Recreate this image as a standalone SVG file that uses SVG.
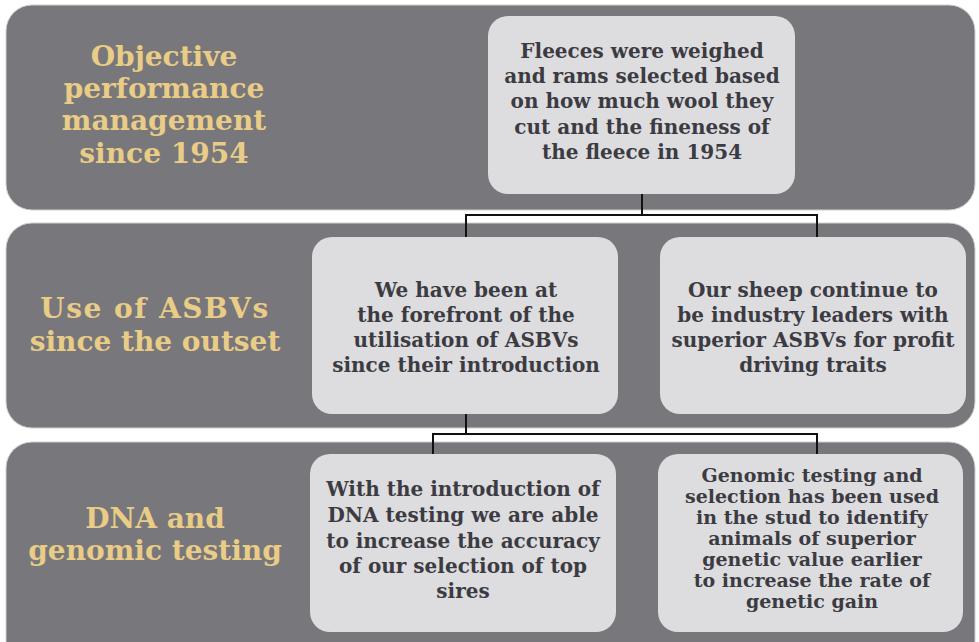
<svg xmlns="http://www.w3.org/2000/svg" width="979" height="642" viewBox="0 0 979 642">
<style>
.band{fill:#78777c;stroke:#cfcfd1;stroke-width:1}
.box{fill:#dddde0}
.title{font-family:"DejaVu Serif",serif;font-weight:bold;font-size:28px;fill:#e9cc85;text-anchor:middle}
.wide{letter-spacing:1.5px}
.txt{font-family:"DejaVu Serif",serif;font-weight:bold;font-size:20px;fill:#3c3b42;text-anchor:middle}
.txt.sm{font-size:19px}
.conn{fill:none;stroke:#111;stroke-width:2}
</style>
<rect width="979" height="642" fill="#ffffff"/>
<g id="band1">
<rect class="band" x="6" y="5" width="969" height="205" rx="26"/>
<text class="title"><tspan x="164" y="66">Objective</tspan><tspan x="164" y="98">performance</tspan><tspan x="164" y="130">management</tspan><tspan x="164" y="163">since 1954</tspan></text>
</g>
<g id="band2">
<rect class="band" x="6" y="223" width="969" height="205" rx="26"/>
<text class="title"><tspan x="155" y="318" class="wide">Use of ASBVs</tspan><tspan x="155" y="351">since the outset</tspan></text>
</g>
<g id="band3">
<rect class="band" x="6" y="442" width="969" height="230" rx="26"/>
<text class="title"><tspan x="155" y="528">DNA and</tspan><tspan x="155" y="560">genomic testing</tspan></text>
</g>
<g id="connectors">
<polyline class="conn" points="642,194 642,215"/>
<polyline class="conn" points="466,237 466,215 817,215 817,237"/>
<polyline class="conn" points="466,414 466,434"/>
<polyline class="conn" points="433,454 433,434 817,434 817,454"/>
</g>
<g id="box1">
<rect class="box" x="488" y="16" width="307" height="178" rx="20"/>
<text class="txt"><tspan x="642" y="58">Fleeces were weighed</tspan><tspan x="642" y="83">and rams selected based</tspan><tspan x="642" y="108">on how much wool they</tspan><tspan x="642" y="134">cut and the fineness of</tspan><tspan x="642" y="159">the fleece in 1954</tspan></text>
</g>
<g id="box2">
<rect class="box" x="312" y="237" width="306" height="177" rx="20"/>
<text class="txt"><tspan x="466" y="297">We have been at</tspan><tspan x="466" y="322">the forefront of the</tspan><tspan x="466" y="347">utilisation of ASBVs</tspan><tspan x="466" y="372">since their introduction</tspan></text>
</g>
<g id="box3">
<rect class="box" x="660" y="237" width="306" height="177" rx="20"/>
<text class="txt"><tspan x="813" y="297">Our sheep continue to</tspan><tspan x="813" y="322">be industry leaders with</tspan><tspan x="813" y="347">superior ASBVs for profit</tspan><tspan x="813" y="372">driving traits</tspan></text>
</g>
<g id="box4">
<rect class="box" x="310" y="454" width="306" height="178" rx="20"/>
<text class="txt"><tspan x="463" y="496">With the introduction of</tspan><tspan x="463" y="522">DNA testing we are able</tspan><tspan x="463" y="548">to increase the accuracy</tspan><tspan x="463" y="573">of our selection of top</tspan><tspan x="463" y="598">sires</tspan></text>
</g>
<g id="box5">
<rect class="box" x="658" y="454" width="305" height="178" rx="20"/>
<text class="txt sm"><tspan x="812" y="482">Genomic testing and</tspan><tspan x="812" y="503">selection has been used</tspan><tspan x="812" y="524">in the stud to identify</tspan><tspan x="812" y="545">animals of superior</tspan><tspan x="812" y="566">genetic value earlier</tspan><tspan x="812" y="587">to increase the rate of</tspan><tspan x="812" y="608">genetic gain</tspan></text>
</g>
</svg>
